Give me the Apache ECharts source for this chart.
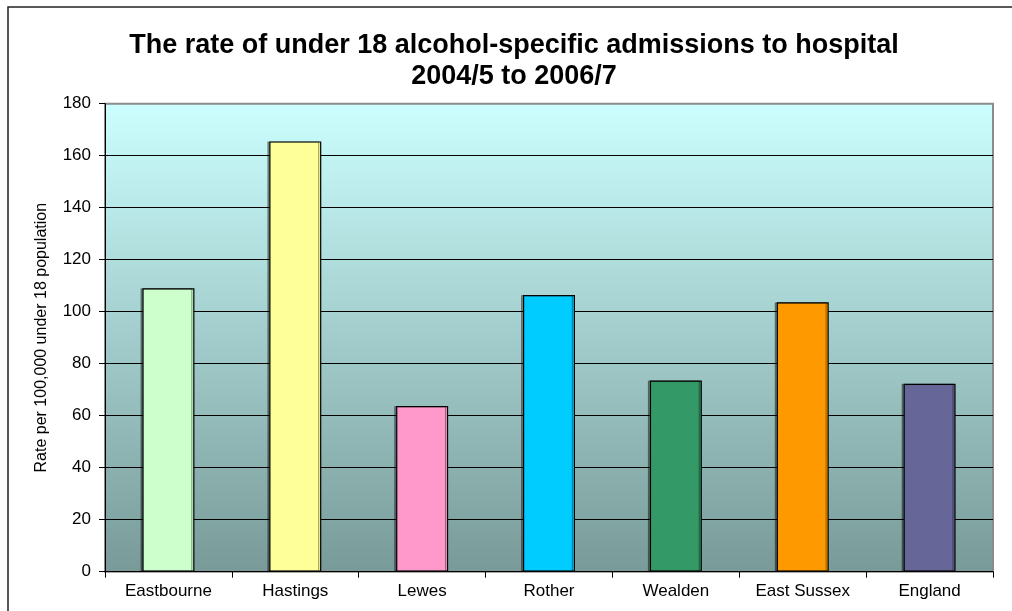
<!DOCTYPE html>
<html>
<head>
<meta charset="utf-8">
<script src="https://cdn.jsdelivr.net/npm/echarts@6/dist/echarts.min.js"></script>
<style>html,body{margin:0;padding:0;background:#fff;}#c{width:1012px;height:611px;}</style>
</head>
<body>
<div id="c"></div>
<script>
const categories = ['Eastbourne', 'Hastings', 'Lewes', 'Rother', 'Wealden', 'East Sussex', 'England'];
const values = [109.0, 165.5, 63.7, 106.4, 73.5, 103.6, 72.3];
const barColors = ['#CCFFCC', '#FFFF99', '#FF99CC', '#00CCFF', '#339966', '#FF9900', '#666699'];
const yTicks = [0, 20, 40, 60, 80, 100, 120, 140, 160, 180];
const titleText = 'The rate of under 18 alcohol-specific admissions to hospital\n2004/5 to 2006/7';
const yAxisTitle = 'Rate per 100,000 under 18 population';

const chart = echarts.init(document.getElementById('c'), null, {renderer: 'canvas'});
const FONT = 'Arial, "Liberation Sans", sans-serif';
const splitColors = yTicks.map((t, i) => i === yTicks.length - 1 ? '#8c8c8c' : '#000000');

chart.setOption({
  animation: false,
  backgroundColor: '#ffffff',
  title: {
    text: titleText,
    left: 514, textAlign: 'center',
    top: 30, padding: 0,
    textStyle: {fontFamily: FONT, fontWeight: 'bold', fontSize: 27, lineHeight: 31, color: '#000'}
  },
  graphic: [{
    type: 'polyline', silent: true, z: -1,
    shape: {points: [[8, 640], [8, 7], [1040, 7]]},
    style: {fill: 'none', stroke: '#222', lineWidth: 1.5}
  }],
  grid: {
    left: 105, right: 19, top: 103.7, bottom: 39.3,
    show: true,
    borderColor: '#8c8c8c', borderWidth: 2,
    backgroundColor: new echarts.graphic.LinearGradient(0, 0, 0, 1, [
      {offset: 0, color: '#CCFFFF'},
      {offset: 1, color: '#789A98'}
    ])
  },
  xAxis: {
    type: 'category',
    data: categories,
    boundaryGap: true,
    axisLine: {show: true, lineStyle: {color: '#000', width: 1}},
    axisTick: {show: true, inside: false, length: 6, alignWithLabel: false, lineStyle: {color: '#000'}},
    axisLabel: {fontFamily: FONT, fontSize: 17, color: '#000', margin: 11, interval: 0}
  },
  yAxis: {
    type: 'value',
    min: 0, max: 180, interval: 20,
    name: yAxisTitle,
    nameLocation: 'middle',
    nameGap: 55,
    nameRotate: 90,
    nameTextStyle: {fontFamily: FONT, fontSize: 16, color: '#000'},
    axisLine: {show: true, lineStyle: {color: '#000', width: 1}},
    axisTick: {show: true, inside: false, length: 6, lineStyle: {color: '#000'}},
    axisLabel: {fontFamily: FONT, fontSize: 17, color: '#000', margin: 14,
      formatter: v => yTicks.includes(v) ? String(v) : ''},
    splitLine: {show: true, lineStyle: {color: splitColors, width: 1}}
  },
  series: [{
    type: 'bar',
    data: values.map((v, i) => ({value: v, itemStyle: {color: barColors[i]}})),
    barWidth: 52,
    itemStyle: {borderColor: '#000', borderWidth: 1.2,
      shadowColor: 'rgba(0,0,0,0.35)', shadowOffsetX: -2, shadowOffsetY: 0, shadowBlur: 0}
  }]
});
</script>
</body>
</html>
